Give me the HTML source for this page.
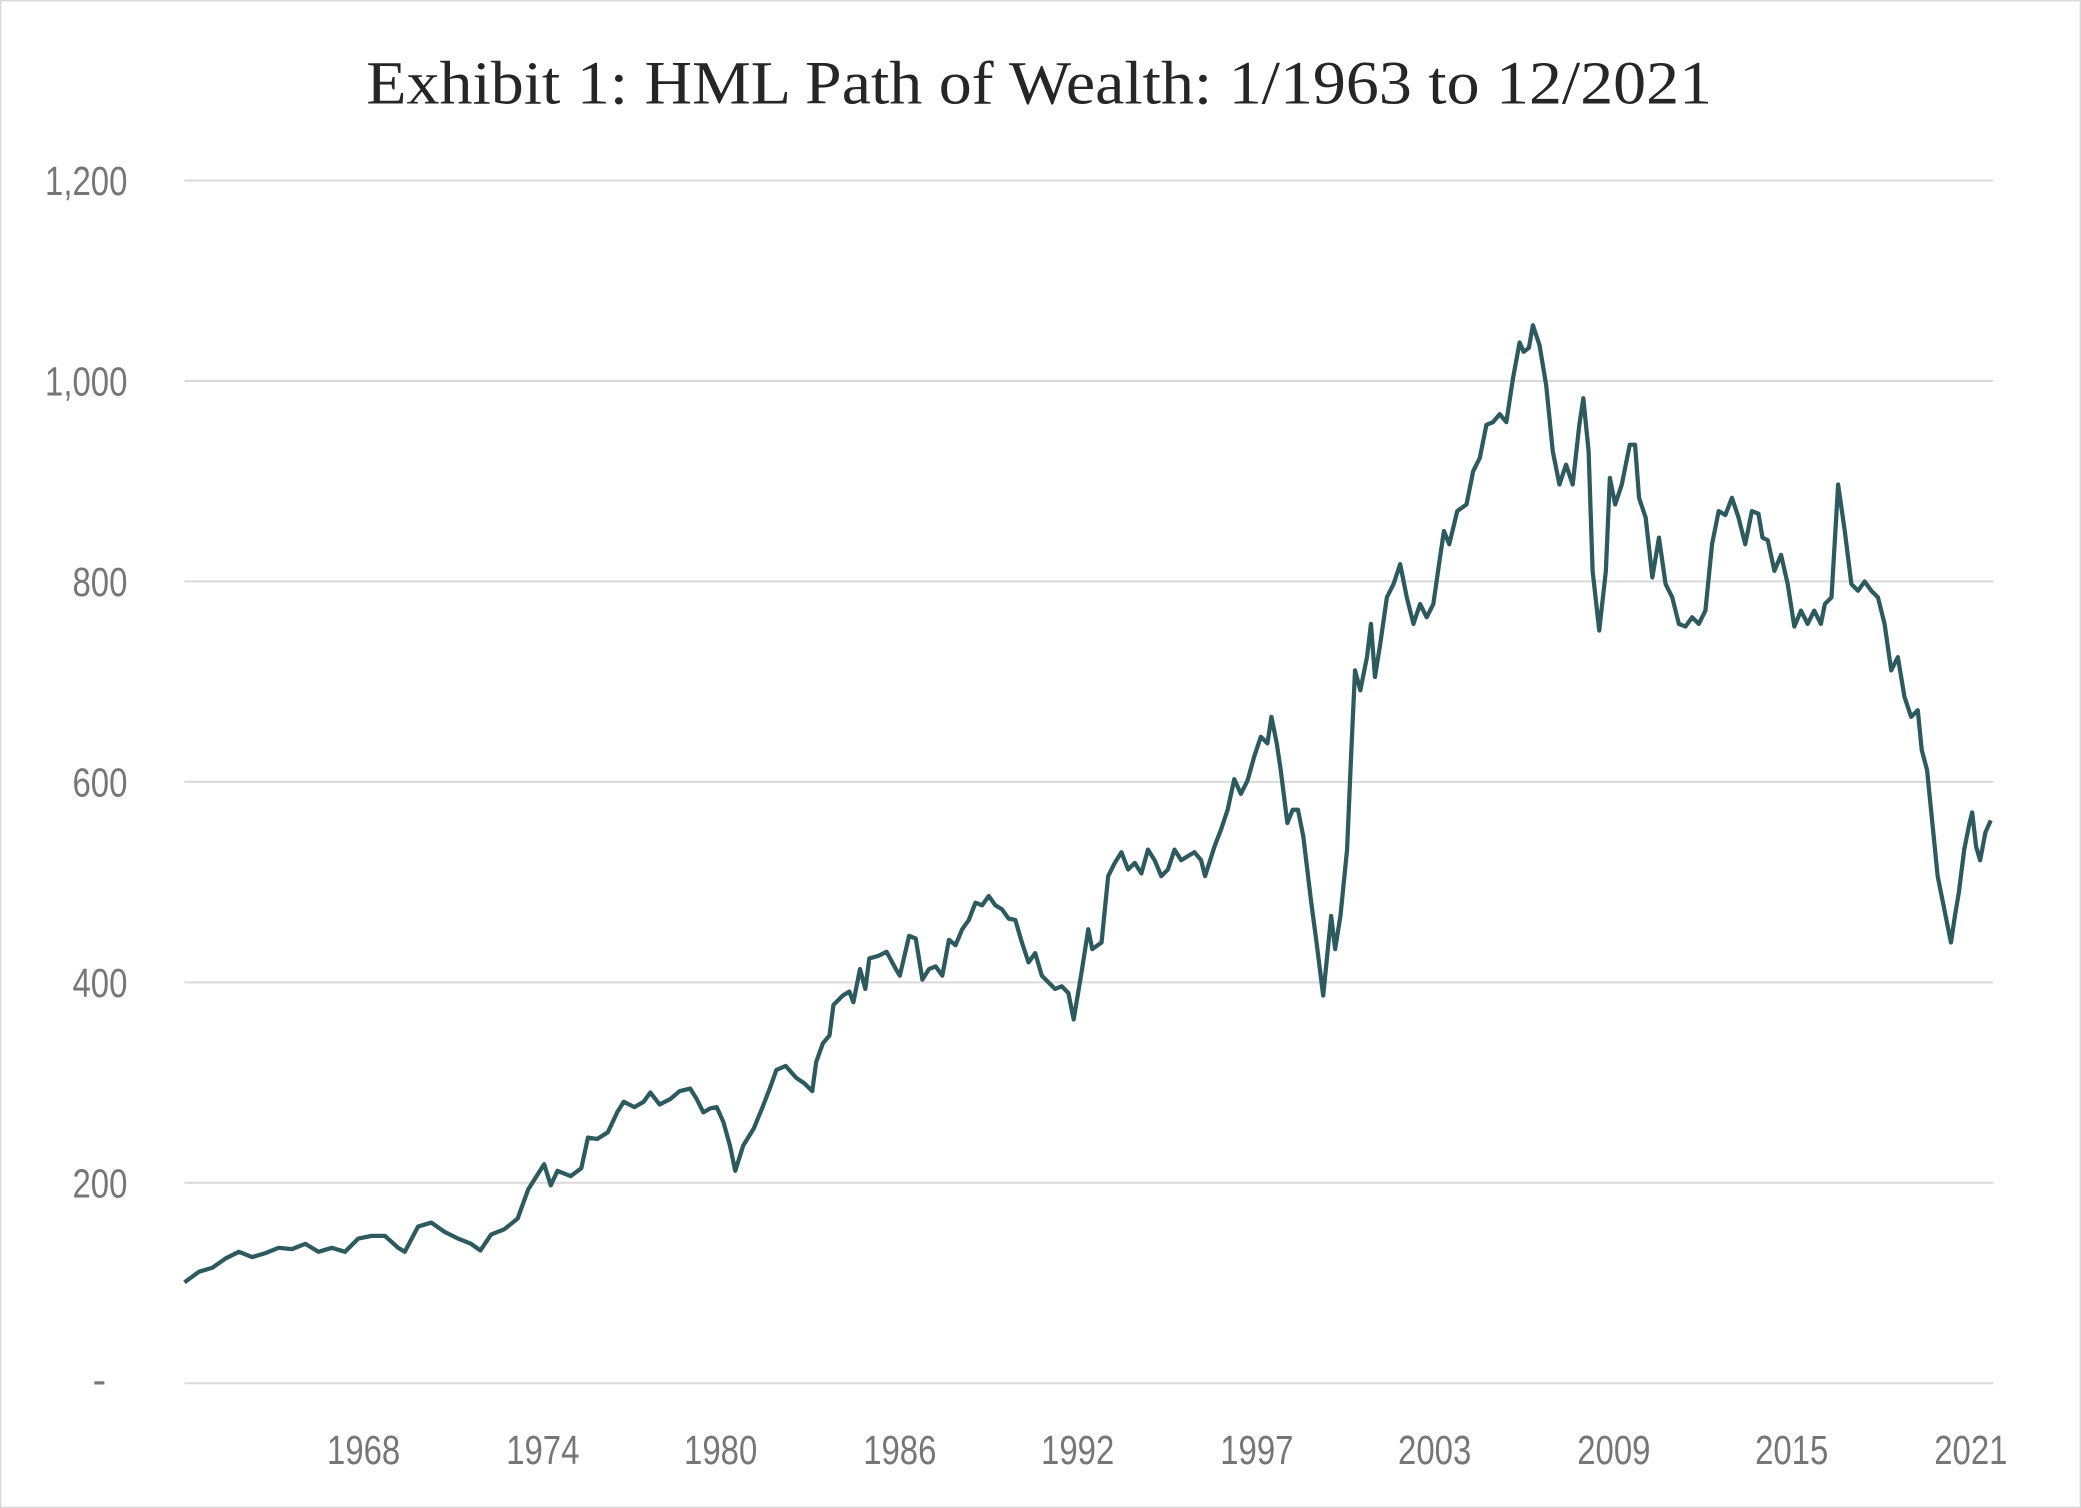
<!DOCTYPE html>
<html><head><meta charset="utf-8"><style>
html,body{margin:0;padding:0;background:#fff;}
svg{display:block;}
</style></head><body>
<svg width="2081" height="1508" viewBox="0 0 1568 1136" preserveAspectRatio="none" xmlns="http://www.w3.org/2000/svg">
<rect x="0.5" y="0.5" width="1567" height="1135" fill="#fff" stroke="#d9d9d9" stroke-width="1"/>
<text x="276" y="78" textLength="1014" lengthAdjust="spacingAndGlyphs" font-family="Liberation Serif, serif" font-size="46" fill="#262626">Exhibit 1: HML Path of Wealth: 1/1963 to 12/2021</text>
<g stroke="#d9d9d9" stroke-width="1.5">
<line x1="139" x2="1502" y1="136" y2="136"/><line x1="139" x2="1502" y1="287" y2="287"/>
<line x1="139" x2="1502" y1="438" y2="438"/><line x1="139" x2="1502" y1="589" y2="589"/>
<line x1="139" x2="1502" y1="740" y2="740"/><line x1="139" x2="1502" y1="891" y2="891"/>
<line x1="139" x2="1502" y1="1042" y2="1042"/>
</g>
<g font-family="Liberation Sans Narrow, Liberation Sans, sans-serif" font-size="31" fill="#767676" text-anchor="end">
<text x="96" y="147" transform="translate(96 0) scale(0.8 1) translate(-96 0)">1,200</text>
<text x="96" y="298" transform="translate(96 0) scale(0.8 1) translate(-96 0)">1,000</text>
<text x="96" y="449" transform="translate(96 0) scale(0.8 1) translate(-96 0)">800</text>
<text x="96" y="600" transform="translate(96 0) scale(0.8 1) translate(-96 0)">600</text>
<text x="96" y="751" transform="translate(96 0) scale(0.8 1) translate(-96 0)">400</text>
<text x="96" y="902" transform="translate(96 0) scale(0.8 1) translate(-96 0)">200</text>
<text x="80" y="1050">-</text>
</g>
<g font-family="Liberation Sans Narrow, Liberation Sans, sans-serif" font-size="31" fill="#767676" text-anchor="middle">
<text x="274" y="1103" transform="translate(274 0) scale(0.8 1) translate(-274 0)">1968</text>
<text x="409" y="1103" transform="translate(409 0) scale(0.8 1) translate(-409 0)">1974</text>
<text x="543" y="1103" transform="translate(543 0) scale(0.8 1) translate(-543 0)">1980</text>
<text x="678" y="1103" transform="translate(678 0) scale(0.8 1) translate(-678 0)">1986</text>
<text x="812" y="1103" transform="translate(812 0) scale(0.8 1) translate(-812 0)">1992</text>
<text x="947" y="1103" transform="translate(947 0) scale(0.8 1) translate(-947 0)">1997</text>
<text x="1081" y="1103" transform="translate(1081 0) scale(0.8 1) translate(-1081 0)">2003</text>
<text x="1216" y="1103" transform="translate(1216 0) scale(0.8 1) translate(-1216 0)">2009</text>
<text x="1350" y="1103" transform="translate(1350 0) scale(0.8 1) translate(-1350 0)">2015</text>
<text x="1485" y="1103" transform="translate(1485 0) scale(0.8 1) translate(-1485 0)">2021</text>
</g>
<polyline fill="none" stroke="#2d5a5e" stroke-width="3.2" stroke-linejoin="round" points="139,966 150,958 160,955 170,948 180,943 190,947 200,944 210,940 220,941 230,937 240,943 250,940 260,943 270,933 280,931 290,931 300,940 305,943 315,924 325,921 335,928 345,933 355,937 362,942 370,930 380,926 390,918 398,896 410,877 415,893 420,882 430,886 438,880 443,857 450,858 458,853 465,838 470,830 478,834 485,830 490,823 497,832 505,828 512,822 520,820 525,828 530,838 535,835 540,834 545,845 550,863 554,882 560,863 568,850 575,833 580,820 585,806 592,803 600,812 606,816 612,822 615,800 620,786 625,780 628,757 635,750 640,747 643,755 648,730 652,745 655,722 662,720 668,717 675,730 678,735 685,705 690,707 695,738 700,730 705,728 710,735 715,708 720,712 725,700 730,693 735,680 740,682 745,675 750,682 755,685 760,692 765,693 770,710 775,725 780,718 785,735 790,740 795,745 800,743 805,748 809,768 815,732 820,700 823,715 830,710 835,660 840,650 845,642 850,655 855,650 860,658 865,640 870,648 875,660 880,655 885,640 890,648 895,645 900,642 905,648 908,660 915,638 920,625 925,610 930,587 935,598 940,588 945,570 950,555 955,560 958,540 962,560 965,580 970,620 974,610 978,610 982,630 988,680 992,710 997,750 1000,720 1003,690 1006,715 1010,690 1015,640 1018,570 1021,505 1025,520 1030,495 1033,470 1036,510 1040,485 1045,450 1050,440 1055,425 1060,450 1065,470 1070,455 1075,465 1080,455 1085,420 1088,400 1092,410 1098,385 1105,380 1110,355 1115,345 1120,320 1125,318 1130,312 1135,318 1140,285 1145,258 1148,265 1152,262 1155,245 1160,260 1165,290 1170,340 1175,365 1180,350 1185,365 1190,320 1193,300 1197,340 1200,430 1205,475 1210,430 1213,360 1217,380 1222,365 1228,335 1232,335 1235,375 1240,390 1245,435 1250,405 1255,440 1260,450 1265,470 1270,472 1275,465 1280,470 1285,460 1290,410 1295,385 1300,388 1305,375 1310,390 1315,410 1320,385 1325,387 1328,405 1332,407 1337,430 1342,418 1347,440 1352,472 1357,460 1362,470 1367,460 1372,470 1375,455 1380,450 1385,365 1390,400 1395,440 1400,445 1405,438 1410,445 1415,450 1420,470 1425,505 1430,495 1435,525 1440,540 1445,535 1448,565 1452,580 1455,610 1460,660 1463,675 1468,700 1470,710 1473,690 1476,672 1480,640 1484,620 1486,612 1489,638 1492,648 1496,627 1500,618"/>
</svg>
</body></html>
